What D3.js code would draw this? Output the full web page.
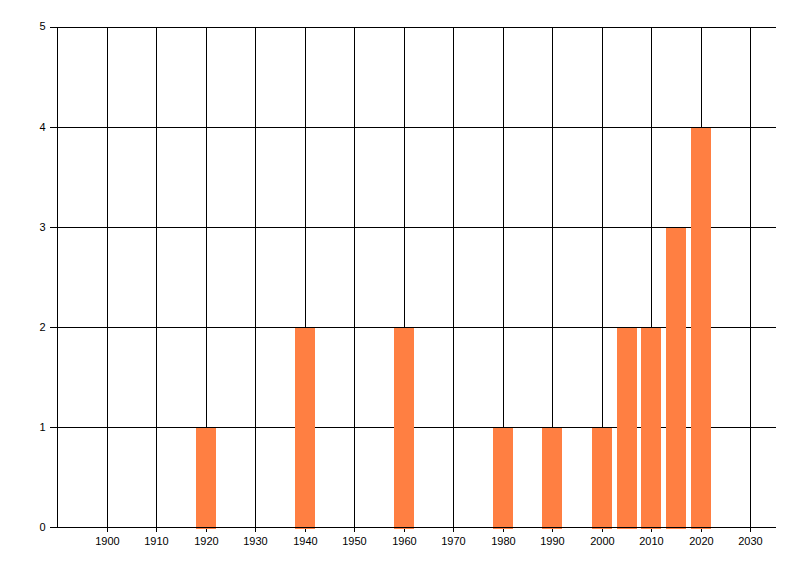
<!DOCTYPE html>
<html>
<head>
<meta charset="utf-8">
<script src="https://cdn.jsdelivr.net/npm/d3@7"></script>
<style>
  body { margin: 0; background: #fff; }
  text { font-family: "Liberation Sans", Arial, sans-serif; font-size: 11px; fill: #000; }
</style>
</head>
<body>
<div id="chart"></div>
<script>
// data
const years = [1920, 1940, 1960, 1980, 1990, 2000, 2005, 2010, 2015, 2020]
const counts = [1, 2, 2, 1, 1, 1, 2, 2, 3, 4]
const xTicks = [1900, 1910, 1920, 1930, 1940, 1950, 1960, 1970, 1980, 1990, 2000, 2010, 2020, 2030]
const yTicks = [0, 1, 2, 3, 4, 5]

const width = 800, height = 576
const plot = { left: 57.5, right: 776, top: 26.5, bottom: 527.5 }
const barYears = 4 // bar width in years

const svg = d3.select("#chart").append("svg")
    .attr("width", width)
    .attr("height", height)

const x = d3.scaleLinear().domain([1890, 2035]).range([plot.left, 775])
const y = d3.scaleLinear().domain([0, 5]).range([plot.bottom, plot.top])

// grid
const grid = svg.append("g").attr("stroke", "#000").attr("shape-rendering", "crispEdges")
grid.selectAll("line.v").data(xTicks).enter().append("line")
    .attr("class", "v")
    .attr("x1", d => Math.round(x(d)) + 0.5).attr("x2", d => Math.round(x(d)) + 0.5)
    .attr("y1", plot.top).attr("y2", plot.bottom + 4)
grid.selectAll("line.h").data(yTicks.slice(1)).enter().append("line")
    .attr("class", "h")
    .attr("x1", plot.left - 8).attr("x2", plot.right)
    .attr("y1", d => Math.round(y(d)) + 0.5).attr("y2", d => Math.round(y(d)) + 0.5)

// bars
const bw = x(1890 + barYears) - x(1890)
svg.append("g").selectAll("rect").data(years).enter().append("rect")
    .attr("x", (d) => Math.round(x(d) - bw / 2))
    .attr("width", Math.round(bw))
    .attr("y", (d, i) => Math.round(y(counts[i])) + 0.5)
    .attr("height", (d, i) => Math.round(y(0)) - Math.round(y(counts[i])))
    .attr("fill", "#ff7f42")
    .attr("shape-rendering", "crispEdges")

// axes lines
const axes = svg.append("g").attr("stroke", "#000").attr("shape-rendering", "crispEdges")
axes.append("line")
    .attr("x1", plot.left).attr("x2", plot.left)
    .attr("y1", plot.top).attr("y2", plot.bottom)
axes.append("line")
    .attr("x1", plot.left - 8).attr("x2", plot.right)
    .attr("y1", plot.bottom).attr("y2", plot.bottom)

// tick labels
svg.append("g").selectAll("text").data(xTicks).enter().append("text")
    .attr("x", d => Math.round(x(d)) + 0.5)
    .attr("y", plot.bottom + 17)
    .attr("text-anchor", "middle")
    .text(d => d)

svg.append("g").selectAll("text").data(yTicks).enter().append("text")
    .attr("x", plot.left - 12)
    .attr("y", d => y(d))
    .attr("dy", "0.35em")
    .attr("text-anchor", "end")
    .text(d => d)
</script>
</body>
</html>
